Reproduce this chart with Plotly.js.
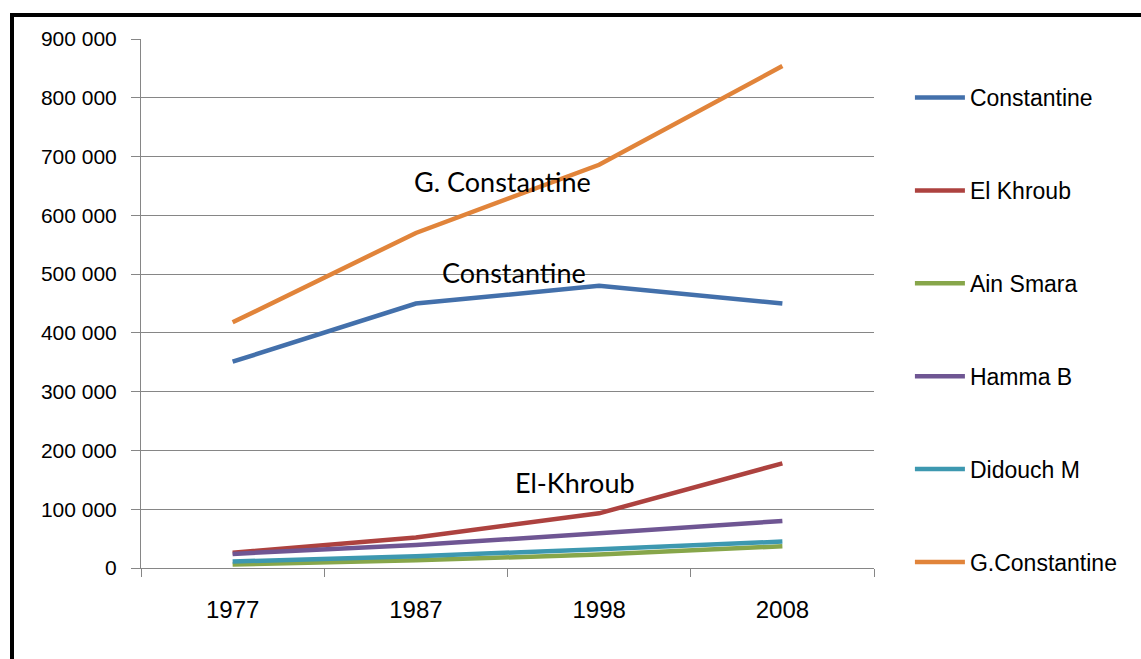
<!DOCTYPE html>
<html>
<head>
<meta charset="utf-8">
<script src="https://cdn.plot.ly/plotly-3.0.1.min.js"></script>
<style>
  html, body { margin: 0; padding: 0; background: #fff; }
  #chart { width: 1141px; height: 659px; }
  #frame { position: absolute; left: 10px; top: 13px; width: 1200px; height: 700px;
           border-left: 4px solid #000; border-top: 4px solid #000; pointer-events: none; }
</style>
</head>
<body>
<div id="chart"></div>
<div id="frame"></div>
<script>
const years = ['1977', '1987', '1998', '2008'];
const constantine  = [351000, 450000, 480000, 450000];
const elKhroub     = [26000, 52000, 93000, 178000];
const ainSmara     = [6000, 13000, 23000, 37000];
const hammaB       = [24000, 39000, 59000, 80000];
const didouchM     = [11000, 20000, 32000, 45000];
const gConstantine = [418000, 570000, 686000, 854000];

const seriesNames  = ['Constantine', 'El Khroub', 'Ain Smara', 'Hamma B', 'Didouch M', 'G.Constantine'];
const seriesValues = [constantine, elKhroub, ainSmara, hammaB, didouchM, gConstantine];
const seriesColors = ['#4370AB', '#AD423F', '#87A64A', '#6F5693', '#3D98B0', '#E1843A'];

const yTicks = [0, 100000, 200000, 300000, 400000, 500000, 600000, 700000, 800000, 900000];

const labels = [
  {text: 'G. Constantine', x: 1.475, y: 658000},
  {text: 'Constantine',    x: 1.535, y: 502000},
  {text: 'El-Khroub',      x: 1.87,  y: 146000}
];

const traces = seriesNames.map((name, i) => ({
  type: 'scatter', mode: 'lines', name: name,
  x: years, y: seriesValues[i],
  line: {color: seriesColors[i], width: 4.5},
  legendgroup: 'g' + i
}));

const layout = {
  width: 1141, height: 659,
  margin: {l: 141, r: 267, t: 39, b: 91},
  paper_bgcolor: '#fff', plot_bgcolor: '#fff',
  separators: '. ',
  font: {family: 'Liberation Sans, Arial, sans-serif', color: '#000'},
  showlegend: true,
  legend: {
    x: 1.049, xanchor: 'left', y: 0.93, yanchor: 'top',
    font: {size: 23, family: 'Liberation Sans, Arial, sans-serif', color: '#000'},
    tracegroupgap: 60, itemwidth: 50, bgcolor: 'rgba(0,0,0,0)'
  },
  xaxis: {
    type: 'category', range: [-0.5, 3.5],
    showgrid: false, zeroline: false,
    showline: true, linecolor: '#868686', linewidth: 1,
    ticks: 'outside', tickson: 'boundaries', ticklen: 8, tickcolor: '#868686',
    tickfont: {size: 24, family: 'Liberation Sans, Arial, sans-serif', color: '#000'},
    ticklabelstandoff: 20
  },
  yaxis: {
    range: [0, 900000],
    tickvals: yTicks, tickformat: ',d',
    showgrid: true, gridcolor: '#868686', gridwidth: 1,
    zeroline: false,
    showline: true, linecolor: '#868686', linewidth: 1,
    ticks: 'outside', ticklen: 9, tickcolor: '#868686',
    tickfont: {size: 21, family: 'Liberation Sans, Arial, sans-serif', color: '#000'},
    ticklabelstandoff: 10
  },
  annotations: labels.map(l => ({
    text: l.text, x: l.x, y: l.y, xref: 'x', yref: 'y', showarrow: false,
    font: {size: 27, family: 'Lato, Carlito, sans-serif', color: '#000'}
  }))
};

Plotly.newPlot('chart', traces, layout, {displayModeBar: false, staticPlot: true});
</script>
</body>
</html>
